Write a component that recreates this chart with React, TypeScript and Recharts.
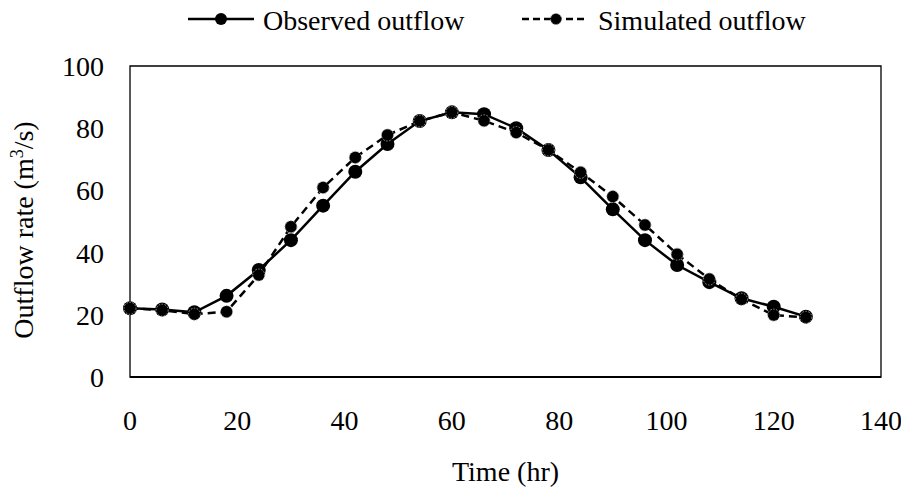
import React from 'react';
import { LineChart, Line, XAxis, YAxis, ReferenceArea, Legend, Label } from 'recharts';

// time steps (hr)
const hours = [0, 6, 12, 18, 24, 30, 36, 42, 48, 54, 60, 66, 72, 78, 84, 90, 96, 102, 108, 114, 120, 126];

// outflow rate (m3/s)
const observed = [22.1, 21.7, 20.8, 26.1, 34.4, 44.0, 55.1, 66.0, 74.9, 82.3, 85.1, 84.5, 80.0, 73.0, 64.2, 53.9, 44.0, 36.0, 30.5, 25.3, 22.6, 19.4];
const simulated = [22.1, 21.5, 20.2, 21.0, 32.8, 48.3, 60.9, 70.6, 77.8, 82.3, 85.1, 82.4, 78.6, 73.0, 65.8, 58.0, 48.9, 39.5, 31.5, 25.0, 19.9, 19.2];

const xTicks = [0, 20, 40, 60, 80, 100, 120, 140];
const yTicks = [0, 20, 40, 60, 80, 100];

const data = hours.map((h, i) => ({ hour: h, observed: observed[i], simulated: simulated[i] }));

const FONT = '"Liberation Serif", "Times New Roman", serif';
const tickStyle = { fontSize: 28, fill: '#000', fontFamily: FONT };

// legend drawn in page coords (wrapper sits at the top of the page)
const LegendBox = () => (
  <svg width={893} height={48} style={{ display: 'block', overflow: 'visible' }}>
    <g fontFamily={FONT} fontSize={28} fill="#000">
      <line x1={180} y1={19} x2={246} y2={19} stroke="#000" strokeWidth={2.5} />
      <circle cx={213} cy={19} r={6} fill="#000" />
      <text x={255} y={30}>Observed outflow</text>
      <line x1={514} y1={19} x2={580} y2={19} stroke="#000" strokeWidth={2.5} strokeDasharray="7 4" />
      <circle cx={548} cy={19} r={5.5} fill="#000" stroke="#9a9a9a" strokeWidth={1} strokeDasharray="1.5 1.5" />
      <text x={590} y={30}>Simulated outflow</text>
    </g>
  </svg>
);

const YTitle = () => (
  <text
    x={25}
    y={222}
    transform="rotate(-90 25 222)"
    textAnchor="middle"
    fontFamily={FONT}
    fontSize={28}
    fill="#000"
  >
    Outflow rate (m<tspan dy={-10} fontSize={18}>3</tspan>
    <tspan dy={10}>/s)</tspan>
  </text>
);

export default function App() {
  return (
    <LineChart
      width={893}
      height={480}
      data={data}
      margin={{ top: 58, right: 20, left: 0, bottom: 51 }}
    >
      <Legend
        verticalAlign="middle"
        align="center"
        wrapperStyle={{ top: -8, left: 0, width: 893, height: 48 }}
        content={() => <LegendBox />}
      />
      <ReferenceArea x1={0} x2={140} y1={0} y2={100} fill="none" stroke="#000" strokeWidth={1.3} />
      <XAxis
        dataKey="hour"
        type="number"
        domain={[0, 140]}
        ticks={xTicks}
        height={60}
        tickLine={false}
        tickSize={0}
        tickMargin={33}
        axisLine={{ stroke: '#000', strokeWidth: 2 }}
        tick={tickStyle}
        interval={0}
      >
        <Label
          value="Time (hr)"
          position="bottom"
          offset={24}
          style={{ fontSize: 28, fill: '#000', fontFamily: FONT }}
        />
      </XAxis>
      <YAxis
        type="number"
        domain={[0, 100]}
        ticks={yTicks}
        width={122}
        tickLine={false}
        tickSize={0}
        tickMargin={26}
        axisLine={false}
        tick={tickStyle}
        interval={0}
        label={{ content: () => <YTitle /> }}
      />
      <Line
        dataKey="observed"
        stroke="#000"
        strokeWidth={2.5}
        dot={{ r: 7, fill: '#000', stroke: '#000', strokeWidth: 0 }}
        activeDot={false}
        isAnimationActive={false}
      />
      <Line
        dataKey="simulated"
        stroke="#000"
        strokeWidth={2.5}
        strokeDasharray="8 5"
        dot={{ r: 6, fill: '#000', stroke: '#9a9a9a', strokeWidth: 1, strokeDasharray: '1.5 1.5' }}
        activeDot={false}
        isAnimationActive={false}
      />
    </LineChart>
  );
}
